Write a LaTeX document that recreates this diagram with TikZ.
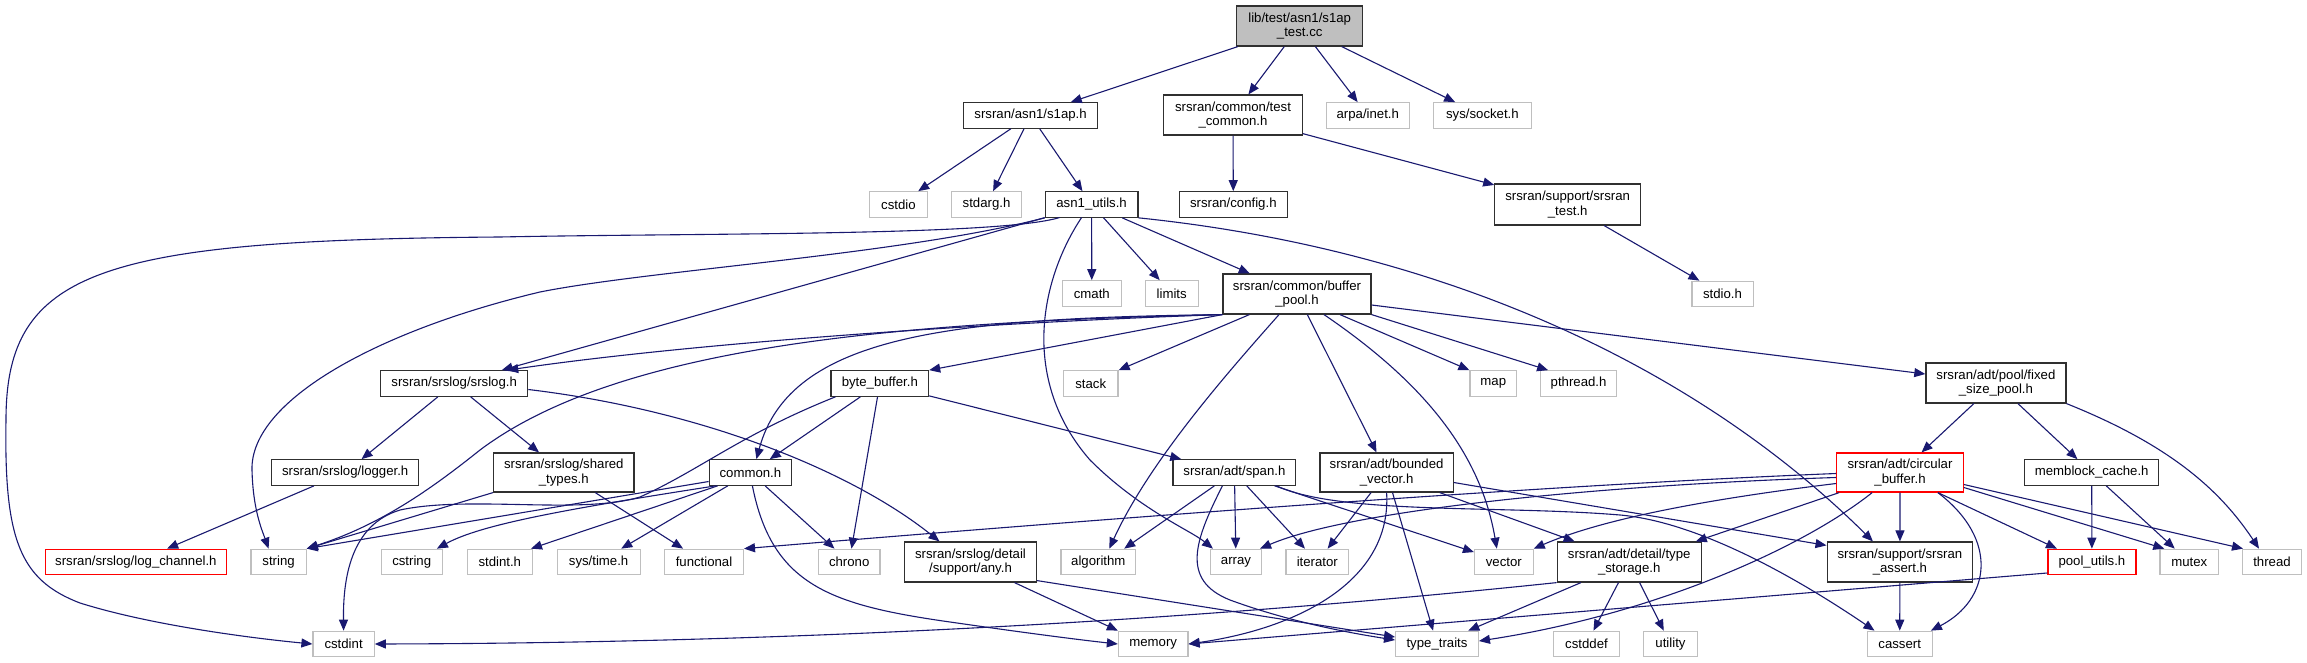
\documentclass[tikz,border=0pt]{standalone}
\usepackage{fontspec}
\setmainfont{Liberation Sans}
\usetikzlibrary{arrows.meta,calc}
\definecolor{edgecol}{HTML}{191970}
\definecolor{nodeblk}{HTML}{303030}
\definecolor{nodegry}{HTML}{BFBFBF}
\definecolor{nodered}{HTML}{FF0000}
\newcommand\ndfont{\fontsize{13.2}{14.5}\selectfont}
\tikzset{
 hdr/.style={draw=nodeblk, line width=1.2pt, inner sep=0pt, minimum height=25.5pt, font=\ndfont, align=center, fill=white},
 sys/.style={hdr, draw=nodegry},
 trunc/.style={hdr, draw=nodered},
 rootnode/.style={hdr, fill=nodegry},
 dbl/.style={minimum height=40pt},
 edge/.style={draw=edgecol, line width=1.1pt, -{Triangle[length=11pt,width=9pt]}},
}
\begin{document}
\begin{tikzpicture}[x=1pt,y=-1pt]
\useasboundingbox (0,0) rectangle (2307,663);
\fill[white] (0,0) rectangle (2307,663);
% row 0
\node[rootnode,dbl,minimum width=126pt] (root) at (1299.7,26) {lib/test/asn1/s1ap\\\_test.cc};
% row 1
\node[hdr,minimum width=133.6pt] (s1ap) at (1030.6,115.5) {srsran/asn1/s1ap.h};
\node[hdr,dbl,minimum width=138.5pt] (tcommon) at (1233,115) {srsran/common/test\\\_common.h};
\node[sys,minimum width=82.6pt] (arpa) at (1367.8,115.5) {arpa/inet.h};
\node[sys,minimum width=97.6pt] (socket) at (1482.4,115.5) {sys/socket.h};
% row 2
\node[sys,minimum width=57.4pt] (cstdio) at (898.4,204.5) {cstdio};
\node[sys,minimum width=69.3pt] (stdarg) at (986.5,204.5) {stdarg.h};
\node[hdr,minimum width=92.6pt] (asn1) at (1091.6,204.5) {asn1\_utils.h};
\node[hdr,minimum width=108pt] (config) at (1233.3,204.5) {srsran/config.h};
\node[hdr,dbl,minimum width=145.8pt,minimum height=41pt] (srstest) at (1567.7,204.5) {srsran/support/srsran\\\_test.h};
% row 3
\node[sys,minimum width=58.6pt] (cmath) at (1091.8,293.5) {cmath};
\node[sys,minimum width=53pt] (limits) at (1171.7,293.5) {limits};
\node[hdr,dbl,minimum width=148pt] (bufpool) at (1297,294) {srsran/common/buffer\\\_pool.h};
\node[sys,minimum width=61.2pt] (stdio) at (1722.5,294) {stdio.h};
% row 4
\node[hdr,minimum width=147pt] (srslog) at (454.2,383.5) {srsran/srslog/srslog.h};
\node[hdr,minimum width=97.6pt] (bytebuf) at (879.8,383.5) {byte\_buffer.h};
\node[sys,minimum width=54.7pt] (stack) at (1090.7,383.5) {stack};
\node[sys,minimum width=46.7pt] (map) at (1493.3,383.5) {map};
\node[sys,minimum width=75.8pt] (pthread) at (1578.6,383.5) {pthread.h};
\node[hdr,dbl,minimum width=140pt] (fixpool) at (1995.9,383) {srsran/adt/pool/fixed\\\_size\_pool.h};
% row 5
\node[hdr,minimum width=147pt] (logger) at (345.2,472.5) {srsran/srslog/logger.h};
\node[hdr,dbl,minimum width=140.4pt,minimum height=39pt] (shtypes) at (563.8,472.5) {srsran/srslog/shared\\\_types.h};
\node[hdr,minimum width=82.3pt] (common) at (750.4,472.5) {common.h};
\node[hdr,minimum width=122.8pt] (span) at (1234.4,472.5) {srsran/adt/span.h};
\node[hdr,dbl,minimum width=133.1pt,minimum height=39pt] (bvec) at (1386.6,472.5) {srsran/adt/bounded\\\_vector.h};
\node[trunc,dbl,minimum width=126.5pt,minimum height=39pt] (circ) at (1900,472.5) {srsran/adt/circular\\\_buffer.h};
\node[hdr,minimum width=134pt] (memblock) at (2091.7,472.5) {memblock\_cache.h};
% row 6
\node[trunc,minimum width=181.4pt] (logch) at (135.9,562) {srsran/srslog/log\_channel.h};
\node[sys,minimum width=55.1pt] (string) at (278.6,562) {string};
\node[sys,minimum width=61.2pt] (cstring) at (411.7,562) {cstring};
\node[sys,minimum width=65.1pt] (stdint) at (499.8,562) {stdint.h};
\node[sys,minimum width=83pt] (systime) at (598.6,562) {sys/time.h};
\node[sys,minimum width=78.8pt] (functional) at (704,562) {functional};
\node[sys,minimum width=61.6pt] (chrono) at (849.2,562) {chrono};
\node[hdr,dbl,minimum width=132pt] (any) at (970.5,562) {srsran/srslog/detail\\/support/any.h};
\node[sys,minimum width=74.6pt] (algorithm) at (1098.3,562) {algorithm};
\node[sys,minimum width=50.9pt] (array) at (1236,562) {array};
\node[sys,minimum width=62.8pt] (iterator) at (1317.3,562) {iterator};
\node[sys,minimum width=58.6pt] (vector) at (1503.8,562) {vector};
\node[hdr,dbl,minimum width=143.9pt] (tstorage) at (1629.2,562) {srsran/adt/detail/type\\\_storage.h};
\node[hdr,dbl,minimum width=145.6pt] (sassert) at (1899.9,562) {srsran/support/srsran\\\_assert.h};
\node[trunc,minimum width=88pt] (poolutils) at (2091.9,562) {pool\_utils.h};
\node[sys,minimum width=58.8pt] (mutex) at (2189.3,562) {mutex};
\node[sys,minimum width=58.8pt] (thread) at (2272,562) {thread};
% row 7
\node[sys,minimum width=61.2pt] (cstdint) at (343.6,644) {cstdint};
\node[sys,minimum width=69.5pt] (memory) at (1153.2,644) {memory};
\node[sys,minimum width=82.7pt] (ttraits) at (1437,644) {type\_traits};
\node[sys,minimum width=65.4pt] (cstddef) at (1586.5,644) {cstddef};
\node[sys,minimum width=53.5pt] (utility) at (1670.5,644) {utility};
\node[sys,minimum width=65.2pt] (cassert) at (1899.7,644) {cassert};

% ---- edges
\draw[edge] (root) -- (s1ap);
\draw[edge] (root) -- (tcommon);
\draw[edge] (root) -- (arpa);
\draw[edge] (root) -- (socket);
\draw[edge] (s1ap) -- (cstdio);
\draw[edge] (s1ap) -- (stdarg);
\draw[edge] (s1ap) -- (asn1);
\draw[edge] (tcommon) -- (config);
\draw[edge] (tcommon) -- (srstest);
\draw[edge] (srstest) -- (stdio);
\draw[edge] (asn1) -- (cmath);
\draw[edge] (asn1) -- (limits);
\draw[edge] (asn1) -- (bufpool);
\draw[edge] (asn1) -- (srslog);
\draw[edge] ($(asn1)+(-32,13)$) .. controls (1000,236) and (700,233) .. (500,237)
   .. controls (100,240) and (6,270) .. (6,420)
   .. controls (4,540) and (20,580) .. (80,603)
   .. controls (150,625) and (250,638) .. (cstdint.west);
\draw[edge] (asn1.south west) .. controls (900,255) and (650,270) .. (540,292)
   .. controls (380,330) and (250,400) .. (252,470)
   .. controls (253,510) and (262,530) .. ($(string.north)+(-10,0)$);
\draw[edge] ($(asn1)+(-10,13)$) .. controls (1040,280) and (1020,380) .. (1090,460)
   .. controls (1140,510) and (1190,530) .. ($(array.north west)+(3,0)$);
\draw[edge] (asn1.south east) .. controls (1450,250) and (1700,370) .. ($(sassert.north)+(-27,0)$);

\draw[edge] (bufpool.south west) .. controls (1000,322) and (700,342) .. ($(srslog.north)+(53,0)$);
\draw[edge] (bufpool.south west) .. controls (900,322) and (620,345) .. (480,450)
   .. controls (430,490) and (380,525) .. (string.north east);
\draw[edge] (bufpool.south west) -- (bytebuf.north east);
\draw[edge] (bufpool.south west) .. controls (950,318) and (790,335) .. ($(common.north)+(6,0)$);
\draw[edge] ($(bufpool.south west)+(27,0)$) -- (stack.north east);
\draw[edge] ($(bufpool.south)+(-18,0)$) .. controls (1230,370) and (1150,460) .. ($(algorithm.north)+(11,0)$);
\draw[edge] (bufpool) -- (bvec);
\draw[edge] ($(bufpool.south)+(27,0)$) .. controls (1420,380) and (1480,450) .. ($(vector.north)+(-7,0)$);
\draw[edge] ($(bufpool.south)+(43,0)$) -- (map.north west);
\draw[edge] (bufpool.south east) -- ($(pthread.north west)+(8,0)$);
\draw[edge] ($(bufpool.east)+(0,11)$) -- ($(fixpool.west)+(0,-9)$);

\draw[edge] (srslog) -- (logger);
\draw[edge] (srslog) -- (shtypes);
\draw[edge] ($(srslog.east)+(0,6)$) .. controls (700,410) and (850,470) .. ($(any.north)+(-31,0)$);
\draw[edge] (logger) -- (logch);
\draw[edge] (shtypes.south west) -- (string.north east);
\draw[edge] (shtypes) -- (functional);

\draw[edge] (bytebuf) -- (common);
\draw[edge] (bytebuf) -- (chrono);
\draw[edge] (bytebuf) -- (span);
\draw[edge] ($(bytebuf.south west)+(5,0)$) .. controls (740,435) and (700,470) .. (640,497)
   .. controls (580,515) and (470,495) .. (400,510)
   .. controls (350,525) and (343,580) .. (cstdint.north);

\draw[edge] ($(common.west)+(0,9)$) -- (string.north east);
\draw[edge] ($(common.south west)+(7,0)$) .. controls (560,510) and (480,525) .. ($(cstring.north east)+(-6,0)$);
\draw[edge] ($(common.south west)+(9,0)$) -- ($(stdint.north east)+(-2,0)$);
\draw[edge] (common) -- (systime);
\draw[edge] (common) -- (chrono);
\draw[edge] ($(common.south)+(2,0)$) .. controls (772,585) and (830,605) .. (950,622)
   .. controls (1040,635) and (1090,641) .. (memory.west);

\draw[edge] ($(any.south)+(44,0)$) -- (memory.north west);
\draw[edge] ($(any.south east)+(0,-2)$) -- ($(ttraits.west)+(0,-7)$);

\draw[edge] ($(span.south west)+(42,0)$) -- ($(algorithm.north east)+(-12,0)$);
\draw[edge] (span) -- (array);
\draw[edge] (span) -- (iterator);
\draw[edge] (span) -- (vector);
\draw[edge] ($(span.south west)+(50,0)$) .. controls (1195,540) and (1180,580) .. (1230,600)
   .. controls (1290,622) and (1350,633) .. ($(ttraits.west)+(0,-4)$);
\draw[edge] ($(span.south east)+(-20,0)$) .. controls (1340,515) and (1500,505) .. (1620,515)
   .. controls (1700,522) and (1800,580) .. ($(cassert.north west)+(8,0)$);

\draw[edge] (bvec) -- (iterator);
\draw[edge] (bvec) -- (ttraits);
\draw[edge] (bvec.south) .. controls (1392,580) and (1300,628) .. (memory.east);
\draw[edge] ($(bvec.south east)+(-14,0)$) -- ($(tstorage.north west)+(18,0)$);
\draw[edge] ($(bvec.east)+(0,10)$) -- ($(sassert.north west)+(0,4)$);

\draw[edge] (fixpool) -- (circ);
\draw[edge] (fixpool) -- (memblock);
\draw[edge] (fixpool.south east) .. controls (2170,445) and (2220,490) .. ($(thread.north)+(-13,0)$);

\draw[edge] ($(circ.west)+(0,1)$) .. controls (1550,485) and (1150,515) .. (functional.north east);
\draw[edge] ($(circ.west)+(0,5)$) .. controls (1600,485) and (1350,510) .. ($(array.north east)+(-2,0)$);
\draw[edge] ($(circ.west)+(0,11)$) .. controls (1700,500) and (1600,520) .. (vector.north east);
\draw[edge] ($(circ.south west)+(3,0)$) -- ($(tstorage.north east)+(-6,0)$);
\draw[edge] ($(circ.south west)+(36,0)$) .. controls (1800,550) and (1650,615) .. ($(ttraits.east)+(0,-3)$);
\draw[edge] (circ) -- (sassert);
\draw[edge] ($(circ.south east)+(-26,0)$) .. controls (2000,540) and (1990,600) .. ($(cassert.north east)+(-2,0)$);
\draw[edge] ($(circ.south east)+(-26,0)$) -- ($(poolutils.north)+(-35,0)$);
\draw[edge] ($(circ.east)+(0,15)$) -- ($(mutex.north west)+(5,0)$);
\draw[edge] ($(circ.east)+(0,12)$) -- ($(thread.north west)+(1,0)$);

\draw[edge] (memblock) -- (poolutils);
\draw[edge] (memblock) -- (mutex);

\draw[edge] (tstorage.south west) .. controls (1200,620) and (800,643) .. (cstdint.east);
\draw[edge] (tstorage) -- (ttraits);
\draw[edge] (tstorage) -- (cstddef);
\draw[edge] (tstorage) -- (utility);
\draw[edge] (sassert) -- (cassert);
\draw[edge] ($(poolutils.west)+(0,11)$) -- (memory.east);
\end{tikzpicture}
\end{document}
